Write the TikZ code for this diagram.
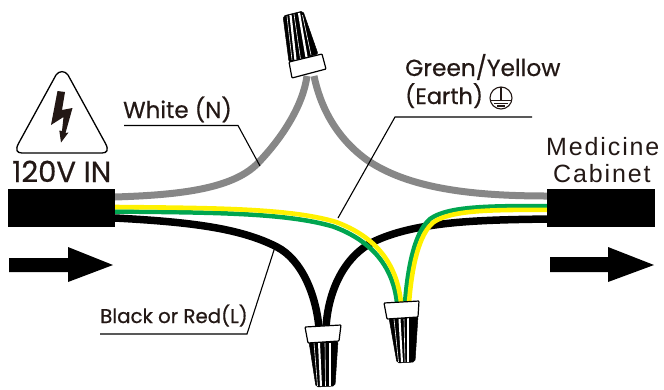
\documentclass[tikz,border=0pt]{standalone}
\usepackage{fontspec}
\setmainfont[FakeBold=0.6]{Poppins}
\newfontfamily\cabfont[LetterSpace=7.5]{Liberation Sans}
\definecolor{txt}{HTML}{231815}
\definecolor{wgray}{HTML}{878787}
\definecolor{wgreen}{HTML}{00A650}
\definecolor{wyellow}{HTML}{FFF100}
\tikzset{
 wire/.style={line width=#1,line cap=butt},
 label/.style={anchor=base west,inner sep=0pt,text=txt},
 leader/.style={draw=black,line width=1.1pt},
 cable/.style={fill=black,draw=none},
 capbox/.style={fill=white,draw=black,line width=1.2pt,rounded corners=0.8pt},
 shell/.style={fill=black,draw=black,line width=0.5pt,rounded corners=2pt},
 stripe/.style={draw=white,line width=#1},
 bigarrow/.style={fill=black,draw=none}
}
\begin{document}
\begin{tikzpicture}[x=1pt,y=-1pt]
\useasboundingbox (0,0) rectangle (664,389);
% gray wires
\draw[wire=7pt,wgray] (115,197) .. controls (175,195) and (232,190) .. (258,163) .. controls (283,137) and (303,105) .. (307,76);
\draw[wire=7pt,wgray] (314,76) .. controls (320,105) and (335,137) .. (367,160) .. controls (408,188) and (470,196) .. (547,196);
% black wires
\draw[wire=7.5pt,black] (115,218) .. controls (190,222) and (240,228) .. (277,247) .. controls (302,260) and (316,295) .. (319,328);
\draw[wire=7.5pt,black] (547,219) .. controls (490,220) and (420,220) .. (375,241) .. controls (345,255) and (328,290) .. (326,328);
% leaders
\coordinate (wn) at (260,166); \coordinate (ge) at (338,218); \coordinate (bl) at (275,247);
\draw[leader] (124,125.5) -- (238,125.5) -- (wn);
\draw[leader] (532,117) -- (395,117) -- (ge);
\draw[leader] (100,334) -- (247,334) -- (bl);
% green/yellow left
\draw[wire=4.5pt,wgreen] (115,211.5) .. controls (210,212.5) and (285,212.5) .. (333,226.5) .. controls (370,240) and (393,265) .. (397,303);
\draw[wire=4.6pt,wyellow] (115,207) .. controls (210,208) and (290,208) .. (336,222) .. controls (374,236) and (397,262) .. (401,303);
% green/yellow right
\draw[wire=4.5pt,wgreen] (547,206) .. controls (490,206) and (448,206) .. (430,219) .. controls (415,232) and (408,265) .. (405,303);
\draw[wire=4.6pt,wyellow] (547,209.8) .. controls (490,209.8) and (451,210) .. (433,222.5) .. controls (419,235) and (412,265) .. (409,303);
% cables
\path[cable] (8,189) rectangle (115,227);
\path[cable] (547,189) rectangle (655,227);
% arrows
\path[bigarrow] (9,258) -- (68,258) -- (68,247) -- (113,265) -- (68,282) -- (68,272) -- (9,272) -- cycle;
\path[bigarrow] (550,257) -- (608,257) -- (608,247) -- (654,265) -- (608,282) -- (608,272) -- (550,272) -- cycle;
% warning triangle
\draw[line width=1.3pt,black] (56,75) .. controls (59,70.5) and (65,70.5) .. (68,75) -- (105.5,143.5) .. controls (109,150) and (107,153) .. (102,153) -- (22,153) .. controls (17,153) and (15,150) .. (18.5,143.5) -- cycle;
\fill[txt] (57.5,91) -- (65,92) -- (62,110) -- (72.5,108) -- (65.5,133) -- (68.5,132.5) -- (61,142.5) -- (59.3,130.5) -- (62,131) -- (63.5,117) -- (51,125) -- cycle;
% top connector
\path[shell] (283,16) -- (303,11) -- (318,54) -- (289,62) -- cycle;
\draw[stripe=2.2pt] (290.5,15) -- (295.5,60);
\draw[stripe=2.2pt] (299,13) -- (306.5,57);
\draw[stripe=.6pt] (294,14) -- (300.5,59);
\draw[stripe=.6pt] (287,16) -- (292,60);
\draw[stripe=.6pt] (302.5,15) -- (311,55);
\path[capbox] (289,62) -- (322,54) -- (326,69) -- (292,78) -- cycle;
% bottom connector left
\path[shell] (309,342) -- (338,341) -- (335,386) -- (316,387) -- cycle;
\draw[stripe=2pt] (319,343) -- (321,386);
\draw[stripe=2.5pt] (330,343) -- (330,386);
\draw[stripe=.6pt] (314,343) -- (317.5,386);
\draw[stripe=.6pt] (325,343) -- (325.5,386);
\path[capbox] (305,327) -- (341,325) -- (339,341) -- (308,343) -- cycle;
% bottom connector right
\path[shell] (389,318) -- (418,316) -- (415,362) -- (397,363) -- cycle;
\draw[stripe=2pt] (399.5,319) -- (402,362);
\draw[stripe=2.5pt] (408,318) -- (408,362);
\draw[stripe=.6pt] (394,319) -- (398.5,362);
\draw[stripe=.6pt] (404,319) -- (405,362);
\path[capbox] (384,303) -- (419,301) -- (418,317) -- (387,319) -- cycle;
% labels
\node[label,font=\fontsize{23}{23}\selectfont] (twhite) at (123,118) {White (N)};
\node[label,font=\fontsize{23.3}{23}\selectfont] (tgreen) at (405,76) {Green/Yellow};
\node[label,font=\fontsize{22.4}{22}\selectfont] (tearth) at (405,104) {(Earth)};
\node[label,font=\fontsize{19.8}{20}\selectfont] (tblack) at (100,323) {Black or Red(L)};
\node[label,font=\fontsize{29}{29}\selectfont] (tvolt) at (12,182) {120V IN};
\node[label,font=\cabfont\fontsize{25}{25}\selectfont] (tmed) at (546,155) {Medicine};
\node[label,font=\cabfont\fontsize{25}{25}\selectfont] (tcab) at (553,182) {Cabinet};
% earth symbol
\draw[txt,line width=1.1pt] (501,98) circle (11);
\draw[txt,line width=1.1pt] (501,87) -- (501,100) (491,100.5) -- (511,100.5) (494,103.5) -- (508,103.5) (497,106) -- (505,106);
\end{tikzpicture}
\end{document}
